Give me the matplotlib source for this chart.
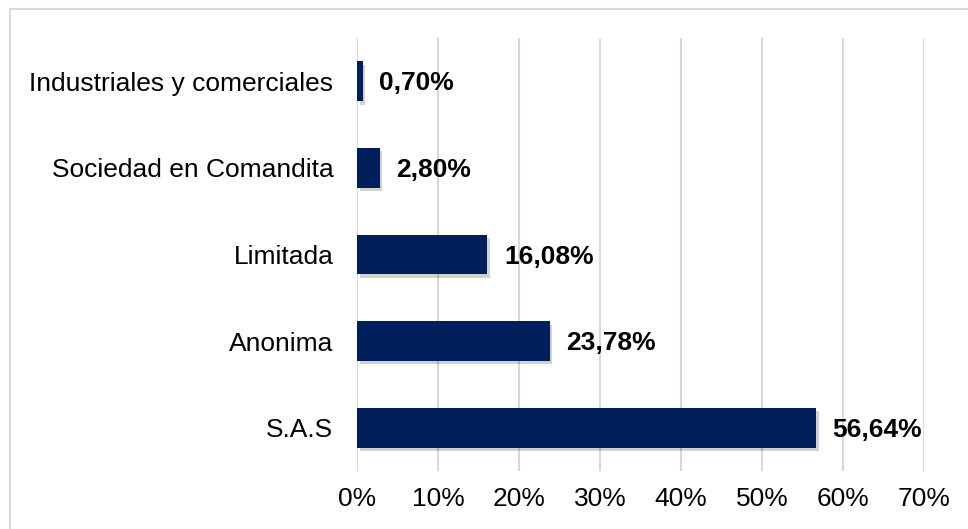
import matplotlib.pyplot as plt
import matplotlib.patheffects as pe
from matplotlib.patches import Rectangle

# Tipos de sociedad (de abajo hacia arriba)
categorias = ['S.A.S', 'Anonima', 'Limitada', 'Sociedad en Comandita', 'Industriales y comerciales']
porcentajes = [56.64, 23.78, 16.08, 2.80, 0.70]
etiquetas = ['56,64%', '23,78%', '16,08%', '2,80%', '0,70%']
ticks = [0, 10, 20, 30, 40, 50, 60, 70]

plt.rcParams['font.family'] = ['Liberation Sans', 'DejaVu Sans']

fig = plt.figure(figsize=(9.68, 5.29), dpi=100)
ax = fig.add_axes([357 / 968, 1 - 471 / 529, (924 - 357) / 968, (471 - 38) / 529])

bars = ax.barh(range(len(categorias)), porcentajes, height=0.46, color='#001F5B', zorder=3)
for b in bars:
    b.set_path_effects([pe.SimplePatchShadow(offset=(2, -2.5), shadow_rgbFace='#000000', alpha=0.18), pe.Normal()])

for i, (v, t) in enumerate(zip(porcentajes, etiquetas)):
    ax.annotate(t, (v, i), xytext=(12, -1.5), textcoords='offset points',
                va='center', ha='left', fontsize=19, fontweight='bold', color='black')

ax.set_xlim(0, 70)
ax.set_ylim(-0.5, 4.5)
ax.set_xticks(ticks)
ax.set_xticklabels([f'{t}%' for t in ticks])
ax.set_yticks(range(len(categorias)))
ax.set_yticklabels(categorias)
ax.tick_params(axis='both', length=0, labelsize=19)
ax.tick_params(axis='y', pad=17)
ax.tick_params(axis='x', pad=11.5)
ax.grid(axis='x', color='#D9D9D9', linewidth=1.5, zorder=0)
for s in ax.spines.values():
    s.set_visible(False)

# marco del grafico
fig.patches.append(Rectangle((10 / 968, -0.1), 1.2, 1 - 9 / 529 + 0.1, transform=fig.transFigure,
                             fill=False, edgecolor='#D9D9D9', linewidth=1.5))

fig.savefig('out.png', dpi=100)
